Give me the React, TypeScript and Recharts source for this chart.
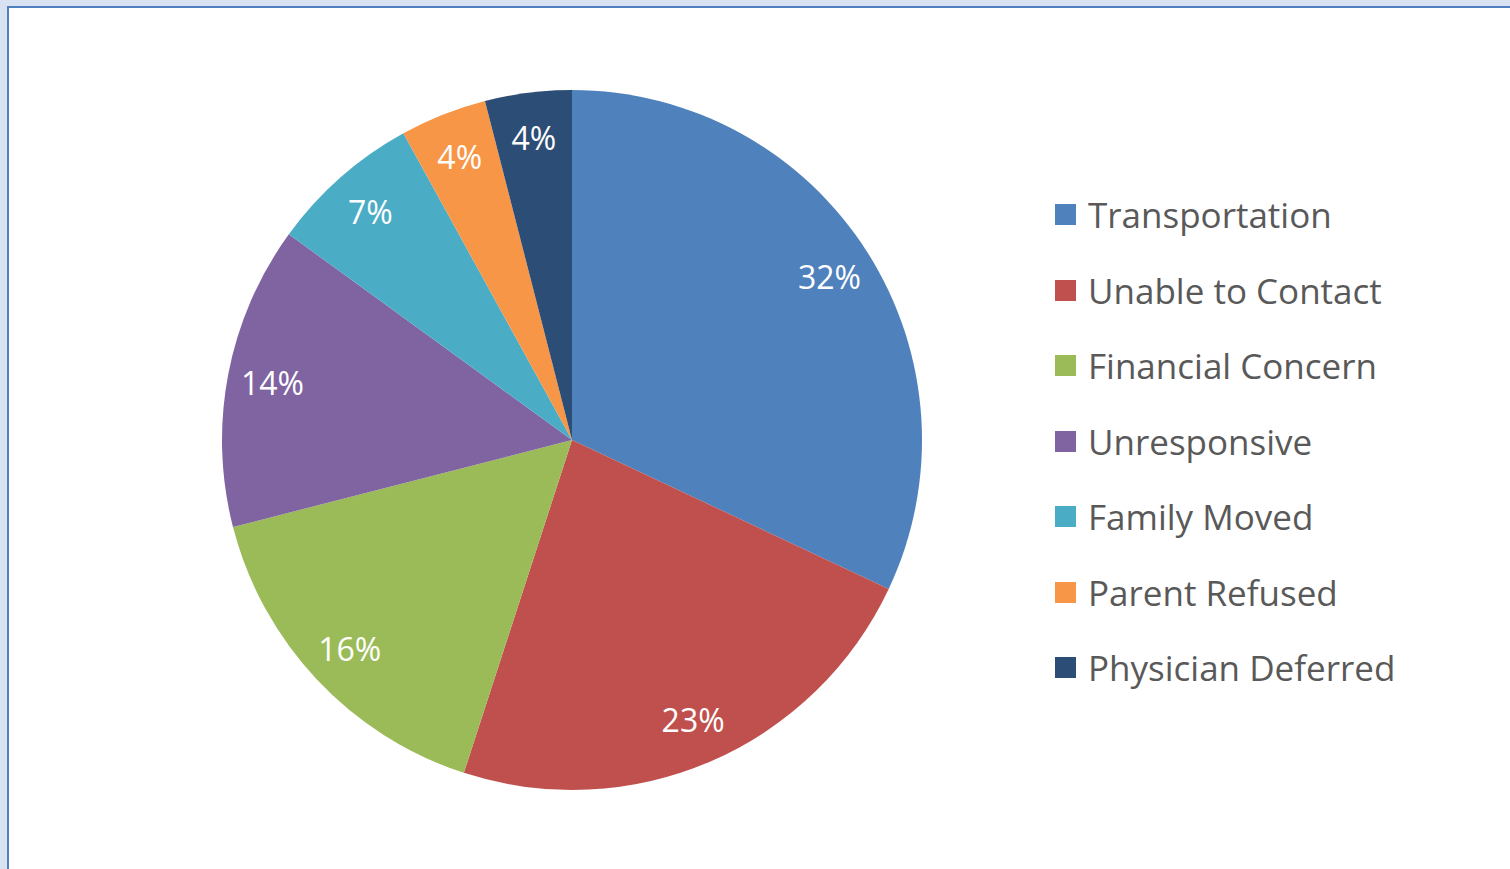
import { PieChart, Pie, Cell, Legend } from 'recharts'

const categories = [
  'Transportation',
  'Unable to Contact',
  'Financial Concern',
  'Unresponsive',
  'Family Moved',
  'Parent Refused',
  'Physician Deferred',
]
const values = [32, 23, 16, 14, 7, 4, 4]
const colors = ['#4f81bd', '#c0504d', '#9bbb59', '#8064a2', '#4bacc6', '#f79646', '#2c4d75']

const data = categories.map((name, i) => ({ name, value: values[i] }))
const total = values.reduce((a, b) => a + b, 0)

const FONT = '"Open Sans", "Noto Sans", sans-serif'
const RAD = Math.PI / 180

function renderLabel(props: any) {
  const { cx, cy, midAngle, value } = props
  const r = 305
  const x = cx + r * Math.cos(-midAngle * RAD)
  const y = cy + r * Math.sin(-midAngle * RAD)
  return (
    <text
      x={x}
      y={y}
      fill="#ffffff"
      fontSize={32}
      fontFamily={FONT}
      textAnchor="middle"
      dominantBaseline="central"
    >
      {Math.round((value / total) * 100)}%
    </text>
  )
}

// legend keeps the data order (not sorted)
function renderLegend() {
  return (
    <div style={{ fontFamily: FONT }}>
      {categories.map((name, i) => (
        <div key={name} style={{ display: 'flex', alignItems: 'center', height: 75.5 }}>
          <span
            style={{
              display: 'inline-block',
              width: 21,
              height: 21,
              background: colors[i],
              marginRight: 12,
            }}
          />
          <span style={{ fontSize: 35, color: '#595959', whiteSpace: 'nowrap' }}>{name}</span>
        </div>
      ))}
    </div>
  )
}

export default function App() {
  return (
    <div
      style={{
        position: 'fixed',
        left: 0,
        top: 0,
        width: 1510,
        height: 869,
        background: '#d9e2f3',
        overflow: 'hidden',
      }}
    >
      <div
        style={{
          position: 'absolute',
          left: 7,
          top: 6,
          width: 1520,
          height: 880,
          background: '#ffffff',
          borderLeft: '2px solid #4f7fbf',
          borderTop: '2px solid #4f7fbf',
        }}
      />
      <div style={{ position: 'absolute', left: 0, top: 0 }}>
        <PieChart width={1510} height={869} margin={{ top: 0, right: 0, bottom: 0, left: 0 }}>
          <Pie
            data={data}
            dataKey="value"
            nameKey="name"
            cx={572}
            cy={440}
            outerRadius={350}
            startAngle={90}
            endAngle={-270}
            stroke="none"
            label={renderLabel}
            labelLine={false}
            isAnimationActive={false}
          >
            {data.map((d, i) => (
              <Cell key={d.name} fill={colors[i]} />
            ))}
          </Pie>
          <Legend
            layout="vertical"
            content={renderLegend}
            wrapperStyle={{ position: 'absolute', left: 1055, top: 177, width: 440 }}
          />
        </PieChart>
      </div>
    </div>
  )
}
